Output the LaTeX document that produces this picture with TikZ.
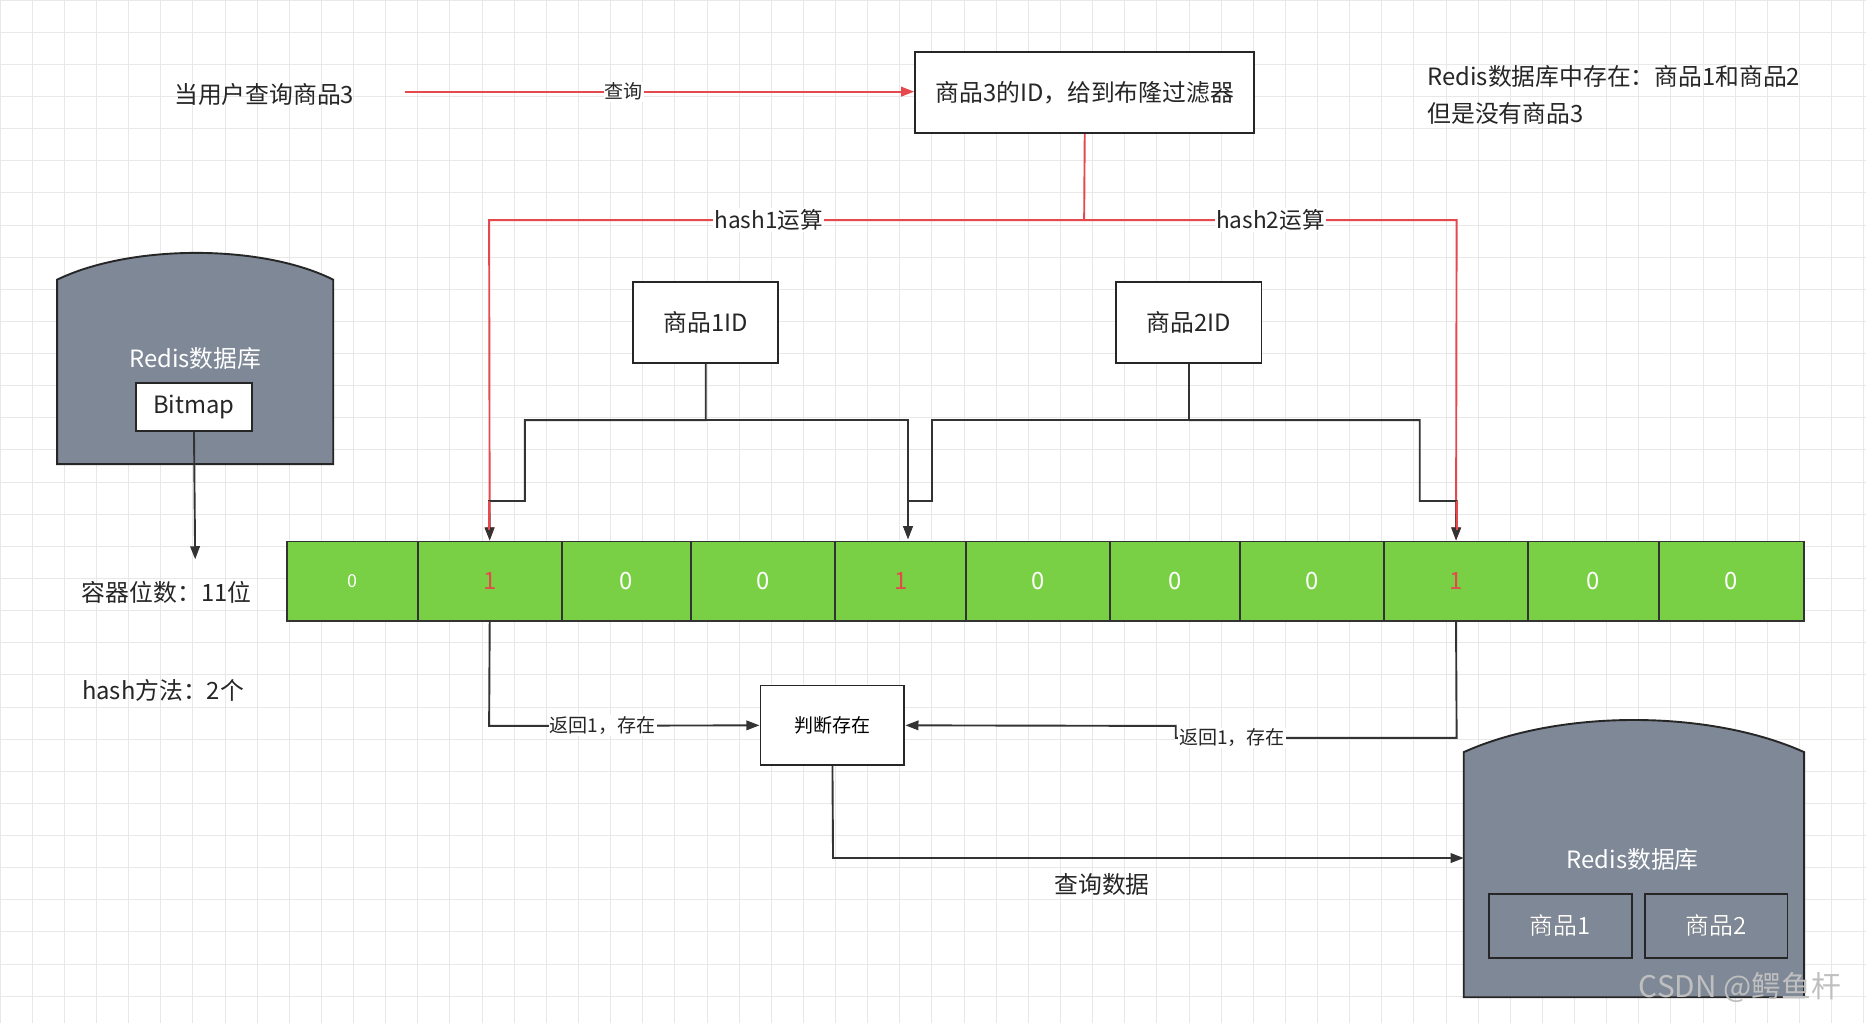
\documentclass[tikz,border=0pt]{standalone}
\usepackage{fontspec}
\setmainfont{Noto Sans CJK SC}
\usetikzlibrary{arrows.meta}
\definecolor{gridc}{HTML}{E8E8E8}
\definecolor{cellg}{HTML}{7AD045}
\definecolor{dbc}{HTML}{7E8896}
\definecolor{redl}{HTML}{E5484D}
\begin{document}
\begin{tikzpicture}[x=1pt,y=-1pt,
 box/.style={draw=black!85,line width=1.6pt,fill=white,inner sep=0pt},
 txt/.style={font=\fontsize{20}{31}\selectfont,text=black!85},
 sm/.style={font=\fontsize{16}{18}\selectfont,text=black!85,fill=white,inner sep=1pt},
 rl/.style={draw=redl,line width=1.6pt},
 bl/.style={draw=black!80,line width=1.6pt},
 arr/.style={-{Triangle[length=11pt,width=8pt]}},
 cell/.style={draw=black!80,line width=1.6pt,fill=cellg}]
\useasboundingbox (0,0) rectangle (1568,860);
\fill[white] (0,0) rectangle (1568,860);
\foreach \i in {0,...,58} \draw[gridc,line width=0.6pt] (\i*27,0)--(\i*27,860);
\foreach \i in {0,...,32} \draw[gridc,line width=0.6pt] (0,\i*27)--(1568,\i*27);
% top
\node[box,minimum width=285pt,minimum height=68pt,txt] (q) at (911.5,78) {商品3的ID，给到布隆过滤器};
\node[txt] (u) at (222,79) {当用户查询商品3};
\coordinate (us) at (340,77);
\draw[rl,arr] (us) -- node[sm,pos=0.43]{查询} (q.west |- us);
\node[txt,align=left,anchor=west] (note) at (1196,80) {Redis数据库中存在：商品1和商品2\\但是没有商品3};
% cells
\foreach \a/\b/\v/\n in {241/351/0/c1,351/472/1/c2,472/581/0/c3,581/702/0/c4,702/812/1/c5,812/933/0/c6,933/1042/0/c7,1042/1163/0/c8,1163/1284/1/c9,1284/1394/0/c10,1394/1516/0/c11}{
 \node[cell,minimum width={\b-\a},minimum height=67pt,inner sep=0pt] (\n) at ({(\a+\b)/2},488.5) {};
}
\foreach \n in {c3,c4,c6,c7,c8,c10,c11} \node[txt,text=white] at (\n) {0};
\node[font=\fontsize{15}{18}\selectfont,text=white] at (c1) {0};
\foreach \n in {c2,c5,c9} \node[txt,text=redl] at (\n) {1};
% red hash lines
\draw[rl,arr] (q.south) -- (911,185) -- node[sm,pos=0.53]{\fontsize{19}{22}\selectfont hash1运算} (411,185) -- (c2.north);
\draw[rl,arr] (911,185) -- node[sm,pos=0.5]{\fontsize{19}{22}\selectfont hash2运算} (1224,185) -- (c9.north);
% item ID boxes
\node[box,minimum width=122pt,minimum height=68pt,txt] (i1) at (593,271) {商品1ID};
\node[box,minimum width=122pt,minimum height=68pt,txt] (i2) at (999,271) {商品2ID};
\draw[bl,arr] (i1.south) -- (593,353) -- (441,353) -- (441,421) -- (411,421) -- (c2.north);
\draw[bl,arr] (593,353) -- (763,353) -- (763,453);
\draw[bl,arr] (i2.south) -- (999,353) -- (783,353) -- (783,421) -- (763,421) -- (763,453);
\draw[bl,arr] (999,353) -- (1193,353) -- (1193,421) -- (1224,421) -- (c9.north);
\draw[rl] (411,421) -- (411,445);
\draw[rl] (1224,421) -- (1224,445);
% left db
\filldraw[fill=dbc,draw=black!85,line width=1.6pt] (48,390) -- (48,235) .. controls (110,205) and (220,205) .. (280,235) -- (280,390) -- cycle;
\node[txt,text=white] (ldb) at (164,301) {Redis数据库};
\node[box,minimum width=98pt,minimum height=40pt,txt] (bm) at (163,342) {Bitmap};
\coordinate (bme) at (164,470);
\draw[bl,arr] (bm.south) -- (bme);
\node[txt] (cap) at (140,498) {容器位数：11位};
\node[txt] (hm) at (137,580) {hash方法：2个};
% judge
\node[box,minimum width=121pt,minimum height=67pt,font=\fontsize{16}{18}\selectfont] (j) at (699.5,609.5) {判断存在};
\draw[bl,arr] (c2.south) -- (411,610) -- node[sm,pos=0.42]{返回1，存在} (j.west);
\draw[bl,arr] (c9.south) -- (1224,620) -- node[sm,pos=0.8]{返回1，存在} (988,620) -- (988,610) -- (j.east);
% right db
\filldraw[fill=dbc,draw=black!85,line width=1.6pt] (1230,838) -- (1230,632) .. controls (1310,596) and (1436,596) .. (1516,632) -- (1516,838) -- cycle;
\coordinate (rdbin) at (1230,721);
\draw[bl,arr] (j.south) -- (700,721) -- (rdbin);
\node[txt] (qd) at (926,743) {查询数据};
\node[txt,text=white] (rdb) at (1372,722) {Redis数据库};
\node[box,minimum width=120pt,minimum height=54pt,txt,fill=dbc] (g1) at (1311,778) {商品1};
\node[box,minimum width=120pt,minimum height=54pt,txt,fill=dbc] (g2) at (1442,778) {商品2};
\node[txt,text=white] at (g1) {商品1};
\node[txt,text=white] at (g2) {商品2};
\node[font=\fontsize{25}{26}\selectfont,text=black!25] (wm) at (1462,830) {CSDN @鳄鱼杆};
\end{tikzpicture}
\end{document}
